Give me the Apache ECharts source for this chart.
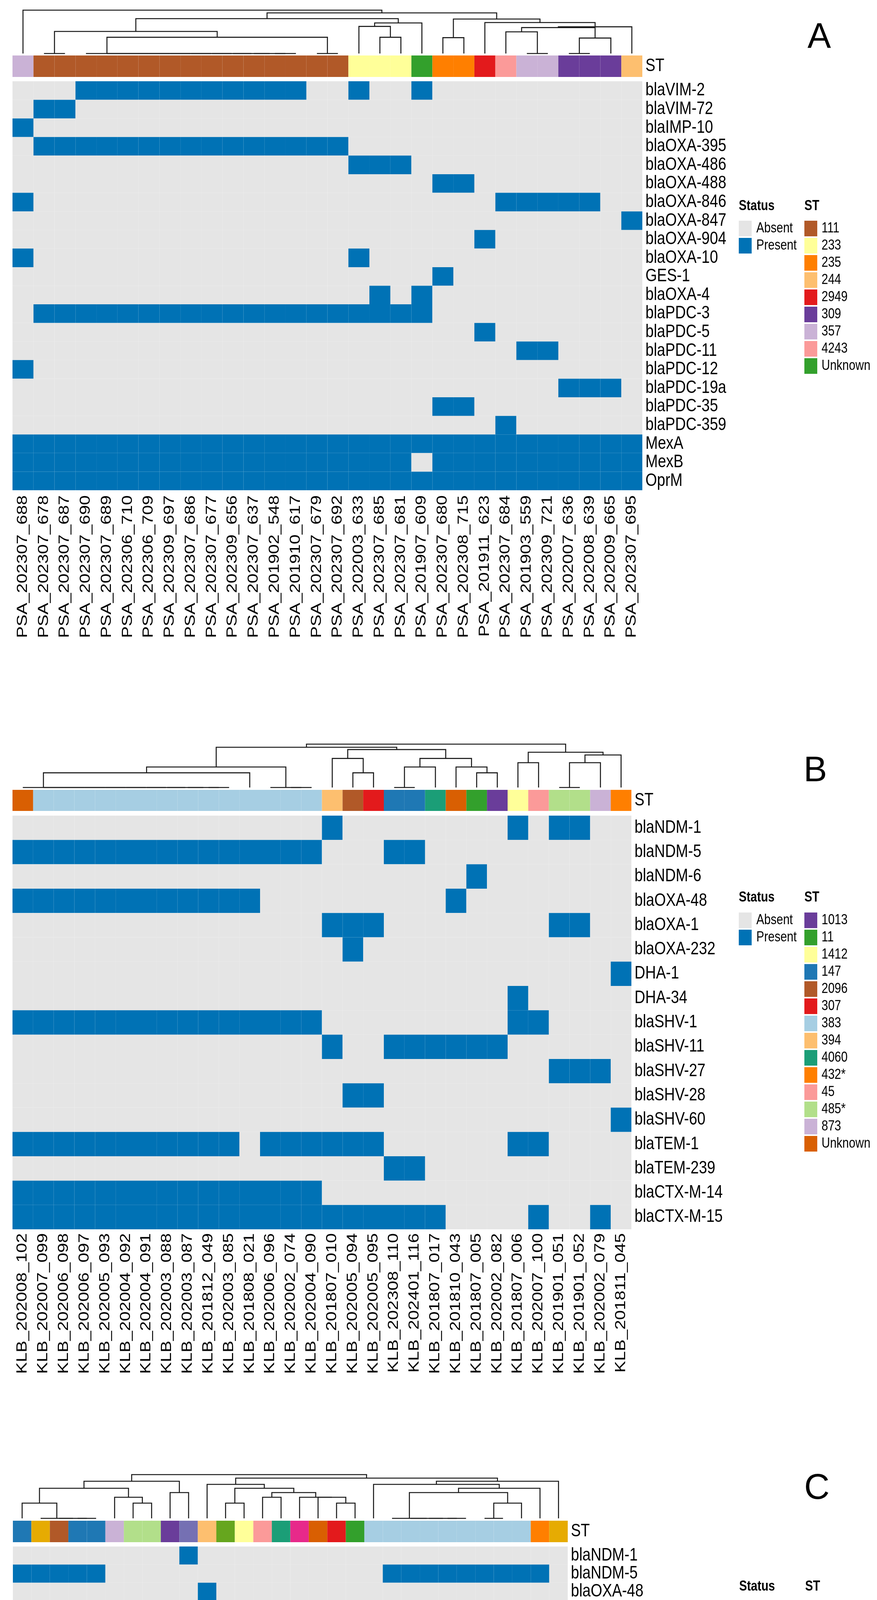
<!DOCTYPE html>
<html><head><meta charset="utf-8"><title>AMR gene presence heatmaps</title>
<script src="https://cdn.jsdelivr.net/npm/echarts@6/dist/echarts.min.js"></script>
<style>html,body{margin:0;padding:0;background:#fff;}#chart{width:2246px;height:5428px;}</style>
</head><body><div id="chart"></div>
<script>
// ================= DATA =================
// ---- Panel A (P. aeruginosa) ----
const A_samples = ["PSA_202307_688","PSA_202307_678","PSA_202307_687","PSA_202307_690","PSA_202307_689","PSA_202306_710","PSA_202306_709","PSA_202309_697","PSA_202307_686","PSA_202307_677","PSA_202309_656","PSA_202307_637","PSA_201902_548","PSA_201910_617","PSA_202307_679","PSA_202307_692","PSA_202003_633","PSA_202307_685","PSA_202307_681","PSA_201907_609","PSA_202307_680","PSA_202308_715","PSA_201911_623","PSA_202307_684","PSA_201903_559","PSA_202309_721","PSA_202007_636","PSA_202008_639","PSA_202009_665","PSA_202307_695"];
const A_st = ["357","111","111","111","111","111","111","111","111","111","111","111","111","111","111","111","233","233","233","Unknown","235","235","2949","4243","357","357","309","309","309","244"];
const A_genes = ["blaVIM-2","blaVIM-72","blaIMP-10","blaOXA-395","blaOXA-486","blaOXA-488","blaOXA-846","blaOXA-847","blaOXA-904","blaOXA-10","GES-1","blaOXA-4","blaPDC-3","blaPDC-5","blaPDC-11","blaPDC-12","blaPDC-19a","blaPDC-35","blaPDC-359","MexA","MexB","OprM"];
// columns (0-based) where each gene is Present
const A_present = ["3-13,16,19","1-2","0","1-15","16-18","20-21","0,23-27","29","22","0,16","20","17,19","1-19","22","24-25","0","26-28","20-21","23","0-29","0-18,20-29","0-29"];
const A_stLevels = ["111","233","235","244","2949","309","357","4243","Unknown"];
const A_stColors = ["#B15928","#FFFF99","#FF7F00","#FDBF6F","#E31A1C","#6A3D9A","#CAB2D6","#FB9A99","#33A02C"];
// dendrogram: [height, left, right]; leaves are column indices
const A_tree = [112, 0, [105,
  [90, [57, [0,1,2], [42, [0,3,[0,4,[0,5,[0,6,[0,7,[0,8,[0,9,[0,10,[0,11,[0,12,13]]]]]]]]]], [0,14,15]]],
       [79, [70, 16, [42,17,18]], 19]],
  [89, [41,20,21], [80, 22, [69, [67, [56, 23, [0,24,25]], [40, [0,26,27], 28]], 29]]]]];

// ---- Panel B (K. pneumoniae) ----
const B_samples = ["KLB_202008_102","KLB_202007_099","KLB_202006_098","KLB_202006_097","KLB_202005_093","KLB_202004_092","KLB_202004_091","KLB_202003_088","KLB_202003_087","KLB_201812_049","KLB_202003_085","KLB_201808_021","KLB_202006_096","KLB_202002_074","KLB_202004_090","KLB_201807_010","KLB_202005_094","KLB_202005_095","KLB_202308_110","KLB_202401_116","KLB_201807_017","KLB_201810_043","KLB_201807_005","KLB_202002_082","KLB_201807_006","KLB_202007_100","KLB_201901_051","KLB_201901_052","KLB_202002_079","KLB_201811_045"];
const B_st = ["Unknown","383","383","383","383","383","383","383","383","383","383","383","383","383","383","394","2096","307","147","147","4060","Unknown","11","1013","1412","45","485*","485*","873","432*"];
const B_genes = ["blaNDM-1","blaNDM-5","blaNDM-6","blaOXA-48","blaOXA-1","blaOXA-232","DHA-1","DHA-34","blaSHV-1","blaSHV-11","blaSHV-27","blaSHV-28","blaSHV-60","blaTEM-1","blaTEM-239","blaCTX-M-14","blaCTX-M-15"];
const B_present = ["15,24,26-27","0-14,18-19","22","0-11,21","15-17,26-27","16","29","24","0-14,24-25","15,18-23","26-28","16-17","29","0-10,12-17,24-25","18-19","0-14","0-20,25,28"];
const B_stLevels = ["1013","11","1412","147","2096","307","383","394","4060","432*","45","485*","873","Unknown"];
const B_stColors = ["#6A3D9A","#33A02C","#FFFF99","#1F78B4","#B15928","#E31A1C","#A6CEE3","#FDBF6F","#1B9E77","#FF7F00","#FB9A99","#B2DF8A","#CAB2D6","#D95F02"];
const B_tree = [112,
  [104,
    [53, [38, [0,0,[0,1,[0,2,[0,3,[0,4,[0,5,[0,6,[0,7,[0,8,[0,9,10]]]]]]]]]], 11], [0, 12, [0,13,14]]],
    [98, [75, 15, [38,16,17]], [75, [53, [0,18,19], 20], [53, 21, [38,22,23]]]]],
  [91, [64,24,25], [84, [64, [0,26,27], 28], 29]]];

// ---- Panel C (E. coli) ----
const C_samples = ["ECOL_202009_171","ECOL_201810_090","ECOL_202008_168","ECOL_201807_020","ECOL_201807_024","ECOL_201807_019","ECOL_202204-177","ECOL_202006_166","ECOL_202405_252","ECOL_201807_010","ECOL_201810_053","ECOL_202204-185","ECOL_202002_151","ECOL_202011_173","ECOL_202008_169","ECOL_202405_254","ECOL_202002_153","ECOL_202002_141","ECOL_202002_152","ECOL_202310_243","ECOL_202407_255","ECOL_202405_253","ECOL_202405_251","ECOL_202402_247","ECOL_202404_249","ECOL_202204_180","ECOL_202204_181","ECOL_202008_167","ECOL_202402_248","ECOL_202204-179"];
const C_st = ["167","Unknown","617","167","167","405","131","131","410","2526","354","10387","453","69","624","4038","1304","127","10","648","648","648","648","648","648","648","648","648","361","Unknown"];
const C_genes = ["blaNDM-1","blaNDM-5","blaOXA-48","blaOXA-1","blaOXA-181","blaOXA-1205","EC-5","EC-8","EC-13","EC-14","EC-15","EC-18","EC-19","blaCMY-181","blaCMY-4","blaCMY-42","blaCMY-145","blaCTX-M-3","blaCTX-M-15","blaCTX-M-24","blaCTX-M-55","AcrAB-TolC-with-MarR"];
const C_present = ["9","0-4,20-28","10","0-7,20-24","19","8","10,17","5,13,29","16","11-12","0-4,8-9","15","14,19-27","6","25-26","8,19","0,28","13-14","0-7,20-24,29","10","11","0-28"];
const C_stLevels = ["2526","453","10","10387","127","1304","131","167","354","361","4038","405","410","617","624","648","69","Unknown"];
const C_stColors = ["#7570B3","#FFFF99","#33A02C","#66A61E","#E31A1C","#D95F02","#B2DF8A","#1F78B4","#FDBF6F","#FF7F00","#E7298A","#CAB2D6","#6A3D9A","#B15928","#1B9E77","#A6CEE3","#FB9A99","#E6AB02"];
const C_tree = [112,
  [95, [77, [39, 0, [0,1,[0,2,[0,3,4]]]], [54, 5, [39,6,7]]], [66,8,9]],
  [103,
    [87, 10, [77, [39,11,12], [66, [54,13,14], [54, 15, [54, 16, [39,17,18]]]]]],
    [95, [87, 19, [77, [66, [0,20,[0,21,[0,22,[0,23,24]]]], [39, [0,25,26], 27]], 28]], 29]]];

// ================= STYLE / LAYOUT =================
const FONT = '"Liberation Sans", Arial, Helvetica, sans-serif';
const SY = 1.25;              // reference text is vertically stretched
const ROW_FS = 38, ROW_SY = 1.2, COL_FS = 36;
const PRESENT = '#0072B5', ABSENT = '#E5E5E5', LINE = '#1a1a1a';

const panels = [
  {letter:'A', samples:A_samples, st:A_st, genes:A_genes, present:A_present, lv:A_stLevels, cols:A_stColors, tree:A_tree,
   L:{left:32, right:1645, dTop:26, dBase:137, stTop:142, stBot:197, top:208, bot:1255, rowOff:8, colOff:13,
      lx:2098, ly:97, lg1:1892, lg2:2060, lgTitle:528, lgTop:565}},
  {letter:'B', samples:B_samples, st:B_st, genes:B_genes, present:B_present, lv:B_stLevels, cols:B_stColors, tree:B_tree,
   L:{left:32, right:1617, dTop:1905, dBase:2016, stTop:2022, stBot:2076, top:2088, bot:3147, rowOff:8, colOff:10,
      lx:2088, ly:1975, lg1:1892, lg2:2060, lgTitle:2298, lgTop:2336}},
  {letter:'C', samples:C_samples, st:C_st, genes:C_genes, present:C_present, lv:C_stLevels, cols:C_stColors, tree:C_tree,
   L:{left:33, right:1454, dTop:3775, dBase:3887, stTop:3893, stBot:3948, top:3959, bot:4979, rowOff:8, colOff:12,
      lx:2092, ly:3812, lg1:1893, lg2:2062, lgTitle:4062, lgTop:4099}}
];

// decode "a-b,c" column lists
function parseCols(s){
  const out = new Set();
  s.split(',').forEach(p => {
    const ab = p.split('-').map(Number);
    if (ab.length === 1) out.add(ab[0]);
    else for (let i = ab[0]; i <= ab[1]; i++) out.add(i);
  });
  return out;
}
// dendrogram segments: x of a merge = midpoint of its children (hclust style)
function layoutTree(node, segs){
  if (typeof node === 'number') return [node, 0];
  const a = layoutTree(node[1], segs), b = layoutTree(node[2], segs);
  segs.push([a[0], a[1], node[0], b[0], b[1]]);
  return [(a[0] + b[0]) / 2, node[0]];
}

const option = {animation:false, backgroundColor:'#ffffff', grid:[], xAxis:[], yAxis:[], series:[], graphic:{elements:[]}};

function txtStyle(text, size, extra){
  return Object.assign({text:text, fontSize:size, fontFamily:FONT, fill:'#000'}, extra || {});
}

panels.forEach(p => {
  const L = p.L, n = p.samples.length, m = p.genes.length;
  const width = L.right - L.left;
  const g0 = option.grid.length;
  option.grid.push({left:L.left, width:width, top:L.dTop, height:L.dBase - L.dTop});
  option.grid.push({left:L.left, width:width, top:L.stTop, height:L.stBot - L.stTop});
  option.grid.push({left:L.left, width:width, top:L.top, height:L.bot - L.top});
  option.xAxis.push({gridIndex:g0, type:'value', min:-0.5, max:n - 0.5, show:false});
  option.yAxis.push({gridIndex:g0, type:'value', min:0, max:p.tree[0], show:false});
  option.xAxis.push({gridIndex:g0+1, type:'category', data:p.samples, show:false});
  option.yAxis.push({gridIndex:g0+1, type:'category', data:['ST'], show:false});
  option.xAxis.push({gridIndex:g0+2, type:'category', data:p.samples, show:false});
  option.yAxis.push({gridIndex:g0+2, type:'category', data:p.genes, inverse:true, show:false});

  // dendrogram
  const segs = [];
  layoutTree(p.tree, segs);
  option.series.push({
    type:'custom', xAxisIndex:g0, yAxisIndex:g0, silent:true, clip:false, data:segs,
    renderItem:(params, api) => {
      const pts = [
        api.coord([api.value(0), api.value(1)]),
        api.coord([api.value(0), api.value(2)]),
        api.coord([api.value(3), api.value(2)]),
        api.coord([api.value(3), api.value(4)])
      ];
      return {type:'polyline', shape:{points:pts}, style:{stroke:LINE, lineWidth:2.6, fill:null}};
    }
  });

  // ST annotation bar
  const stColor = {};
  p.lv.forEach((l, k) => stColor[l] = p.cols[k]);
  option.series.push({
    type:'custom', xAxisIndex:g0+1, yAxisIndex:g0+1, silent:true, clip:false,
    data:p.samples.map((s, i) => [i, 0]),
    renderItem:(params, api) => {
      const c = api.coord([api.value(0), 0]), sz = api.size([1, 1]);
      const els = [{type:'rect', shape:{x:c[0]-sz[0]/2, y:c[1]-sz[1]/2, width:sz[0], height:sz[1]},
                    style:{fill:stColor[p.st[params.dataIndex]]}}];
      if (params.dataIndex === n - 1) {
        els.push({type:'text', x:c[0] + sz[0]/2 + L.rowOff, y:c[1], scaleY:ROW_SY,
                  style:txtStyle('ST', ROW_FS, {align:'left', verticalAlign:'middle'})});
      }
      return {type:'group', children:els};
    }
  });

  // presence / absence cells
  const cells = [];
  p.genes.forEach((g, j) => {
    const set = parseCols(p.present[j]);
    for (let i = 0; i < n; i++) cells.push([i, j, set.has(i) ? 1 : 0]);
  });
  option.series.push({
    type:'custom', xAxisIndex:g0+2, yAxisIndex:g0+2, silent:true, clip:false, data:cells,
    renderItem:(params, api) => {
      const c = api.coord([api.value(0), api.value(1)]), sz = api.size([1, 1]);
      return {type:'rect', shape:{x:c[0]-sz[0]/2, y:c[1]-sz[1]/2, width:sz[0], height:sz[1]},
              style:{fill: api.value(2) ? PRESENT : ABSENT}};
    }
  });

  // row labels (gene names)
  option.series.push({
    type:'custom', xAxisIndex:g0+2, yAxisIndex:g0+2, silent:true, clip:false,
    data:p.genes.map((g, j) => [n - 1, j]),
    renderItem:(params, api) => {
      const c = api.coord([api.value(0), api.value(1)]), sz = api.size([1, 1]);
      return {type:'text', x:c[0] + sz[0]/2 + L.rowOff, y:c[1], scaleY:ROW_SY,
              style:txtStyle(p.genes[params.dataIndex], ROW_FS, {align:'left', verticalAlign:'middle'})};
    }
  });

  // column labels (sample names), rotated
  option.series.push({
    type:'custom', xAxisIndex:g0+2, yAxisIndex:g0+2, silent:true, clip:false,
    data:p.samples.map((s, i) => [i, m - 1]),
    renderItem:(params, api) => {
      const c = api.coord([api.value(0), api.value(1)]), sz = api.size([1, 1]);
      return {type:'text', x:c[0], y:c[1] + sz[1]/2 + L.colOff, rotation:Math.PI/2, scaleX:SY,
              style:txtStyle(p.samples[params.dataIndex], COL_FS, {align:'right', verticalAlign:'middle'})};
    }
  });

  // legends
  const E = option.graphic.elements;
  const sw = 33, sh = 40, pitch = 44;
  E.push({type:'text', x:L.lg1, y:L.lgTitle, scaleY:SY, silent:true,
          style:txtStyle('Status', 30, {fontWeight:'bold', align:'left', verticalAlign:'middle'})});
  E.push({type:'text', x:L.lg2, y:L.lgTitle, scaleY:SY, silent:true,
          style:txtStyle('ST', 30, {fontWeight:'bold', align:'left', verticalAlign:'middle'})});
  [['Absent', ABSENT], ['Present', PRESENT]].forEach((it, k) => {
    const y = L.lgTop + k * pitch;
    E.push({type:'rect', silent:true, shape:{x:L.lg1, y:y, width:sw, height:sh}, style:{fill:it[1]}});
    E.push({type:'text', x:L.lg1 + sw + 12, y:y + sh/2, scaleY:SY, silent:true,
            style:txtStyle(it[0], 30, {align:'left', verticalAlign:'middle'})});
  });
  p.lv.forEach((lv, k) => {
    const y = L.lgTop + k * pitch;
    E.push({type:'rect', silent:true, shape:{x:L.lg2, y:y, width:sw, height:sh}, style:{fill:p.cols[k]}});
    E.push({type:'text', x:L.lg2 + sw + 11, y:y + sh/2, scaleY:SY, silent:true,
            style:txtStyle(lv, 30, {align:'left', verticalAlign:'middle'})});
  });
  // panel letter
  E.push({type:'text', x:L.lx, y:L.ly, silent:true,
          style:txtStyle(p.letter, 90, {align:'center', verticalAlign:'middle'})});
});

const chart = echarts.init(document.getElementById('chart'), null, {renderer:'canvas', width:2246, height:5428});
chart.setOption(option);
</script></body></html>
